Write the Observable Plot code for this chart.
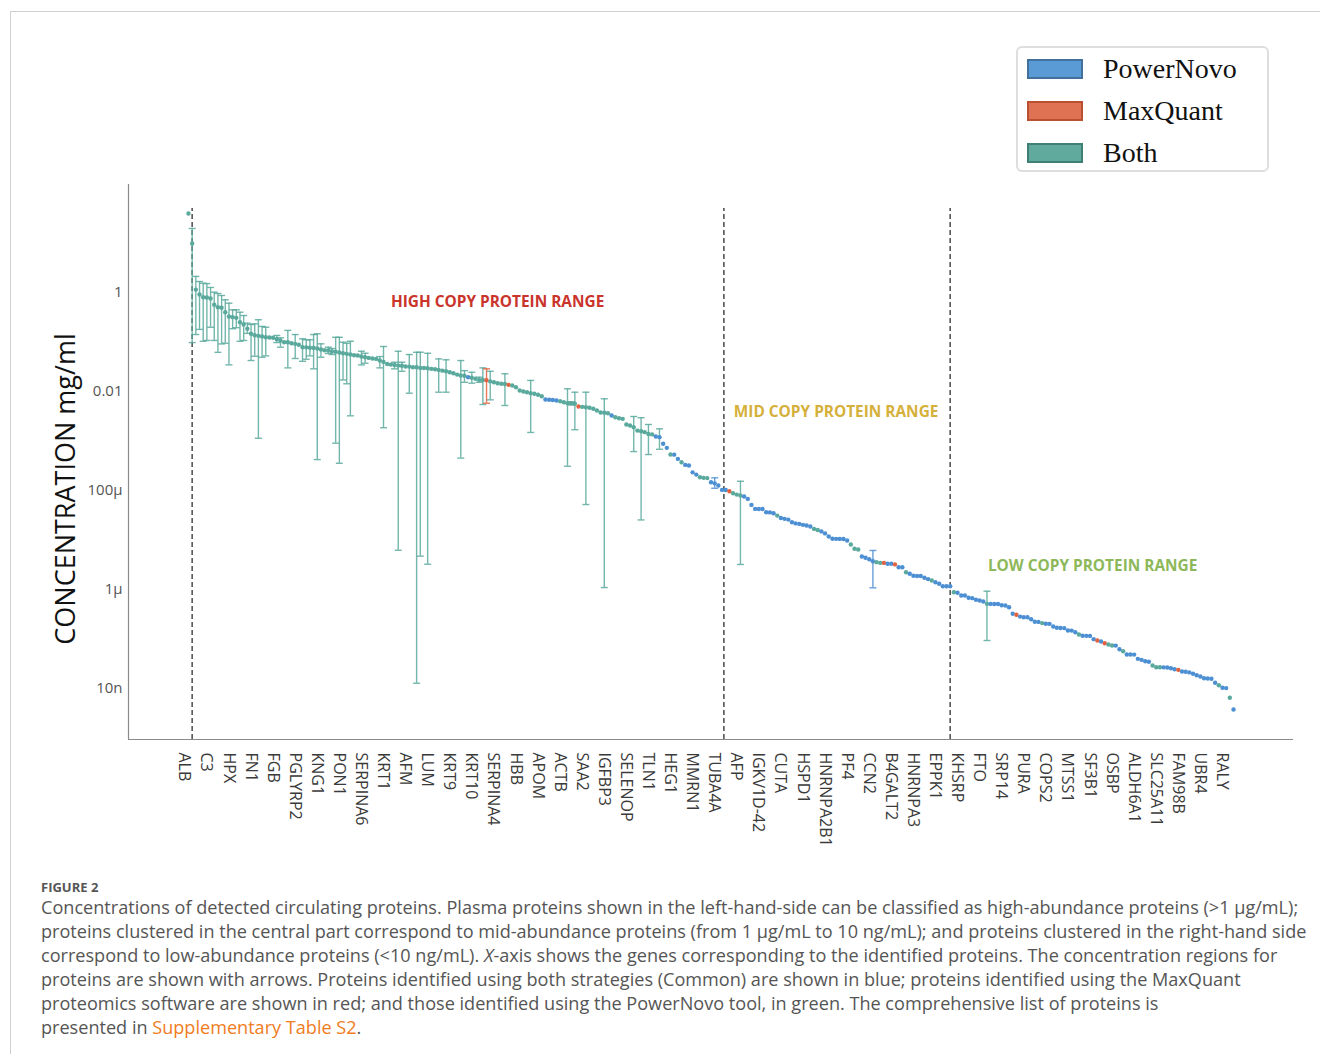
<!DOCTYPE html>
<html><head><meta charset="utf-8">
<script src="https://cdn.jsdelivr.net/npm/d3@7"></script>
<script src="https://cdn.jsdelivr.net/npm/@observablehq/plot@0.6"></script>
<style>
html,body{margin:0;padding:0;background:#fff;}
body{width:1320px;height:1054px;position:relative;overflow:hidden;font-family:"Open Sans",sans-serif;}
#frame{position:absolute;left:10px;top:11px;width:1310px;height:1043px;border-top:1px solid #d0d0d0;border-left:1px solid #d0d0d0;}
#chart{position:absolute;left:0;top:0;}
#ytitle{position:absolute;left:64px;top:489px;transform:translate(-50%,-50%) rotate(-90deg);font-size:27px;color:#111;white-space:nowrap;}
#legend{position:absolute;left:1016px;top:46px;width:253px;height:126px;border:2px solid #dedede;border-radius:6px;box-sizing:border-box;background:#fff;}
.sw{position:absolute;left:9px;width:56px;height:20px;box-sizing:border-box;border:2px solid;}
.lt{position:absolute;left:85px;font-family:"Liberation Serif","Times New Roman",serif;font-size:28px;color:#111;line-height:30px;}
#caption{position:absolute;left:41px;top:879px;color:#555;}
.fig{font-size:13px;font-weight:700;height:16px;line-height:16px;color:#555;}
.cl{font-size:18.1px;line-height:24px;white-space:nowrap;}
.lnk{color:#f07c22;}
</style></head>
<body>
<div id="frame"></div>
<div id="chart"></div>
<div id="ytitle">CONCENTRATION mg/ml</div>
<div id="legend"></div>
<div id="caption"></div>
<script>
// ---- data ----
const labels = ["ALB","C3","HPX","FN1","FGB","PGLYRP2","KNG1","PON1","SERPINA6","KRT1",
"AFM","LUM","KRT9","KRT10","SERPINA4","HBB","APOM","ACTB","SAA2","IGFBP3",
"SELENOP","TLN1","HEG1","MMRN1","TUBA4A","AFP","IGKV1D-42","CUTA","HSPD1","HNRNPA2B1",
"PF4","CCN2","B4GALT2","HNRNPA3","EPPK1","KHSRP","FTO","SRP14","PURA","COPS2",
"MTSS1","SF3B1","OSBP","ALDH6A1","SLC25A11","FAM98B","UBR4","RALY"];
const labelEvery = 6; // every 6th protein is labelled on the axis

// concentrations (mg/ml), proteins sorted by abundance
const values = [
39.8, 9.84, 1.145, 0.912, 0.803, 0.792, 0.756, 0.564, 0.503, 0.49,
0.399, 0.326, 0.317, 0.307, 0.25, 0.225, 0.185, 0.146, 0.136, 0.1325,
0.129, 0.124, 0.1228, 0.1216, 0.1134, 0.1068, 0.0986, 0.0984, 0.0941, 0.0914,
0.0874, 0.0781, 0.0776, 0.0759, 0.0756, 0.0735, 0.0701, 0.0678, 0.0669, 0.0638,
0.063, 0.0609, 0.0589, 0.0573, 0.0555, 0.0537, 0.0529, 0.0505, 0.0489, 0.0475,
0.0461, 0.0453, 0.042, 0.0394, 0.0358, 0.0347, 0.0342, 0.0331, 0.0329, 0.0317,
0.0316, 0.0307, 0.0306, 0.0298, 0.0297, 0.0292, 0.0285, 0.0279, 0.0271, 0.0262,
0.0254, 0.0243, 0.0232, 0.0218, 0.0209, 0.0207, 0.0193, 0.0188, 0.0179, 0.017,
0.0169, 0.0168, 0.0159, 0.0152, 0.0146, 0.0142, 0.0141, 0.0135, 0.0131, 0.0121,
0.01037, 0.0099, 0.00959, 0.00915, 0.0089, 0.0085, 0.00795, 0.00682, 0.00676, 0.00666,
0.00651, 0.0063, 0.00601, 0.00574, 0.00573, 0.00558, 0.00493, 0.00485, 0.00477, 0.00463,
0.00443, 0.00409, 0.00373, 0.00367, 0.0036, 0.00324, 0.00299, 0.00285, 0.00277, 0.00213,
0.00203, 0.00188, 0.0016, 0.00155, 0.00149, 0.00137, 0.00134, 0.00122, 0.00118, 0.000865,
0.000717, 0.000525, 0.000522, 0.000428, 0.000366, 0.000324, 0.000314, 0.000229, 0.000206, 0.000182,
0.000177, 0.000175, 0.000144, 0.000137, 1.24e-4, 1.01e-4, 1.005e-4, 9.47e-5, 8.62e-5, 8.11e-5,
7.76e-5, 7.4e-5, 6.63e-5, 5.02e-5, 4.16e-5, 4.15e-5, 4.14e-5, 3.55e-5, 3.54e-5, 3.4e-5,
3.05e-5, 2.73e-5, 2.62e-5, 2.53e-5, 2.23e-5, 2.12e-5, 2.07e-5, 1.98e-5, 1.92e-5, 1.83e-5,
1.64e-5, 1.56e-5, 1.46e-5, 1.33e-5, 1.15e-5, 1.033e-5, 1.03e-5, 1.028e-5, 1.025e-5, 9.55e-6,
7.94e-6, 6.5e-6, 6.28e-6, 4.54e-6, 4.26e-6, 3.99e-6, 3.64e-6, 3.48e-6, 3.37e-6, 3.36e-6,
3.23e-6, 3.22e-6, 3.13e-6, 2.75e-6, 2.74e-6, 2.18e-6, 2.03e-6, 1.84e-6, 1.83e-6, 1.82e-6,
1.68e-6, 1.58e-6, 1.48e-6, 1.36e-6, 1.268e-6, 1.134e-6, 1.131e-6, 1.128e-6, 8.57e-7, 8.35e-7,
7.35e-7, 7.34e-7, 6.61e-7, 6.49e-7, 6.02e-7, 5.82e-7, 5.55e-7, 4.98e-7, 4.97e-7, 4.96e-7,
4.94e-7, 4.67e-7, 4.62e-7, 4.25e-7, 3.13e-7, 2.99e-7, 2.75e-7, 2.67e-7, 2.66e-7, 2.43e-7,
2.16e-7, 2.15e-7, 2.03e-7, 1.97e-7, 1.96e-7, 1.73e-7, 1.63e-7, 1.62e-7, 1.61e-7, 1.44e-7,
1.43e-7, 1.33e-7, 1.194e-7, 1.123e-7, 1.12e-7, 1.117e-7, 9.6e-8, 9.02e-8, 8.61e-8, 7.95e-8,
7.49e-8, 7.15e-8, 7.12e-8, 6.02e-8, 5.47e-8, 4.71e-8, 4.7e-8, 4.68e-8, 3.84e-8, 3.66e-8,
3.44e-8, 3.35e-8, 2.81e-8, 2.6e-8, 2.59e-8, 2.58e-8, 2.56e-8, 2.48e-8, 2.37e-8, 2.3e-8,
2.13e-8, 2.11e-8, 2.04e-8, 1.91e-8, 1.79e-8, 1.69e-8, 1.55e-8, 1.54e-8, 1.52e-8, 1.256e-8,
1.124e-8, 9.95e-9, 9.81e-9, 6.24e-9, 3.62e-9
];

// proteins found only by PowerNovo / only by MaxQuant (all others: Both)
const powerNovoIdx = [76,97,98,99,100,115,127,128,129,130,132,133,135,136,137,138,142,143,144,145,146,
151,152,153,154,155,156,157,158,159,161,162,163,164,165,166,167,168,169,172,173,174,175,176,177,178,179,
183,184,185,186,190,191,193,194,196,197,198,199,200,201,203,204,205,206,207,209,210,211,212,213,214,215,216,
218,219,220,221,222,223,224,226,227,228,229,230,231,233,234,235,236,237,238,239,240,241,243,244,245,246,248,
252,253,255,256,257,258,259,260,261,265,266,267,268,270,271,272,273,274,275,276,277,278,279,281,282,284];
const maxQuantIdx = [81,87,106,147,189,192,225,247,249,269];

// error bars: [protein index, low, high]
const errorBars = [
[1,0.097,19.8],[2,0.141,2.12],[3,0.179,1.67],[4,0.103,1.54],[5,0.107,1.515],[6,0.198,1.265],
[7,0.107,1.015],[8,0.0615,0.955],[9,0.091,0.871],[10,0.094,0.712],[11,0.0343,0.608],[12,0.185,0.446],
[13,0.194,0.446],[14,0.103,0.399],[15,0.107,0.342],[16,0.149,0.239],[17,0.042,0.225],[18,0.0512,0.232],
[19,1.12e-3,0.281],[20,0.0489,0.206],[21,0.0522,0.198],[24,0.097,0.135],[25,0.0781,0.121],[27,0.0298,0.171],
[29,0.0461,0.141],[31,0.0405,0.1155],[32,0.0446,0.1104],[33,0.0522,0.1104],[34,0.0285,0.141],[35,4.15e-4,0.146],
[36,0.0489,0.0914],[38,0.0582,0.0781],[39,0.0555,0.0735],[40,8.92e-4,0.124],[41,3.49e-4,0.124],[42,0.017,0.0986],
[43,0.0142,0.0941],[44,3.19e-3,0.103],[47,0.0342,0.0647],[48,0.037,0.0589],[52,0.0298,0.0505],[53,1.83e-3,0.0807],
[56,0.0285,0.0387],[57,6.06e-6,0.0647],[58,0.0254,0.0387],[60,9.15e-3,0.0555],[62,1.232e-8,0.0617],[63,4.6e-6,0.0617],
[65,3.16e-6,0.0589],[68,9.59e-3,0.0453],[70,9.59e-3,0.0434],[74,4.44e-4,0.042],[75,0.0152,0.0262],[77,0.0146,0.0243],
[79,0.0152,0.0193],[80,5.4e-3,0.0298],[81,5.74e-3,0.0285],[82,6.72e-3,0.0254],[86,5.16e-3,0.0226],[93,1.47e-3,0.0166],
[103,3.04e-4,0.01124],[104,5.29e-3,6.16e-3],[105,1.67e-3,9.59e-3],[108,5.1e-5,9.59e-3],[113,1.065e-6,7.05e-3],
[121,6.02e-4,3.09e-3],[123,2.49e-5,2.92e-3],[125,5.25e-4,2.13e-3],[128,6.71e-4,1.74e-3],[143,1.09e-4,1.77e-4],
[150,3.12e-6,1.51e-4],[186,1.052e-6,6.0e-6],[217,9.02e-8,8.98e-7]
];
const barSource = {81:"MaxQuant",143:"PowerNovo",186:"PowerNovo"};

// range boundaries (protein index) and range annotations
const rangeBoundaries = [1, 145.5, 207];
const boundaryTop = 50;
const rangeNames = ["HIGH COPY PROTEIN RANGE","MID COPY PROTEIN RANGE","LOW COPY PROTEIN RANGE"];
const rangeAnchorIdx = [84, 176, 245.7];
const rangeAnchorVal = [0.627, 3.72e-3, 2.84e-6];
const rangeColors = ["#c9342b","#d5b03a","#8db85a"];

const yTicks = [1, 0.01, 1e-4, 1e-6, 1e-8];
const yTickLabels = ["1","0.01","100µ","1µ","10n"];

const sources = ["PowerNovo","MaxQuant","Both"];
const dotColors = ["#4d8fd3","#e3623f","#5aa99d"];
const swatchFill = ["#5b9bd5","#e07254","#5fa99d"];
const swatchStroke = ["#41719c","#b9502f","#3f7f74"];

// ---- build tables ----
const pnSet = new Set(powerNovoIdx), mqSet = new Set(maxQuantIdx);
const proteins = values.map((v,i)=>({i, v, src: pnSet.has(i) ? "PowerNovo" : mqSet.has(i) ? "MaxQuant" : "Both"}));
const bars = errorBars.map(([i,lo,hi])=>({i, lo, hi, src: barSource[i] || "Both"}));
const labelIdx = labels.map((_,k)=>k*labelEvery);
const ranges = rangeNames.map((t,k)=>({text:t, x:rangeAnchorIdx[k], y:rangeAnchorVal[k], color:rangeColors[k]}));

const xDomain = [-16.3, 300.3];
const yDomain = [8.94e-10, 153.6];
const capHalf = 0.95;

const chart = Plot.plot({
  width: 1320, height: 870,
  marginTop: 184, marginBottom: 131, marginLeft: 128, marginRight: 27,
  style: {fontFamily: '"Open Sans", sans-serif', background: "transparent", overflow: "visible"},
  x: {type: "linear", domain: xDomain},
  y: {type: "log", domain: yDomain},
  color: {domain: sources, range: dotColors},
  marks: [
    Plot.ruleX([xDomain[0]], {stroke: "#8a8a8a", strokeWidth: 1.2}),
    Plot.ruleY([yDomain[0]], {stroke: "#8a8a8a", strokeWidth: 1.2}),
    Plot.ruleX(rangeBoundaries, {y1: yDomain[0], y2: boundaryTop, stroke: "#555", strokeWidth: 1.6, strokeDasharray: "5,3"}),
    Plot.ruleX(bars, {x: "i", y1: "lo", y2: "hi", stroke: "src", strokeWidth: 1.4, strokeOpacity: 0.85}),
    Plot.link(bars, {x1: d=>d.i-capHalf, x2: d=>d.i+capHalf, y1: "lo", y2: "lo", stroke: "src", strokeWidth: 1.4, strokeOpacity: 0.85}),
    Plot.link(bars, {x1: d=>d.i-capHalf, x2: d=>d.i+capHalf, y1: "hi", y2: "hi", stroke: "src", strokeWidth: 1.4, strokeOpacity: 0.85}),
    Plot.dot(proteins, {x: "i", y: "v", fill: "src", r: 2.2}),
    ...ranges.map(r => Plot.text([r], {x: "x", y: "y", text: "text", fill: r.color, fontSize: 15.4, fontWeight: 700})),
    Plot.axisY({ticks: yTicks, tickFormat: d => yTickLabels[yTicks.indexOf(d)], tickSize: 0, tickPadding: 6, fontSize: 15, color: "#555", label: null}),
    Plot.axisX({ticks: labelIdx, tickFormat: d => labels[labelIdx.indexOf(d)], tickRotate: 90, tickSize: 0, tickPadding: 13, fontSize: 16, color: "#3a3a3a", label: null, dx: -4})
  ]
});
document.getElementById("chart").appendChild(chart);

// legend
const lg = document.getElementById("legend");
const rowTops = [11, 53, 95];
sources.forEach((s,k)=>{
  const sw = document.createElement("div");
  sw.className = "sw"; sw.style.top = rowTops[k] + "px";
  sw.style.background = swatchFill[k]; sw.style.borderColor = swatchStroke[k];
  lg.appendChild(sw);
  const t = document.createElement("div");
  t.className = "lt"; t.style.top = (rowTops[k] - 5) + "px"; t.textContent = s;
  lg.appendChild(t);
});

// caption
document.getElementById("caption").innerHTML =
 '<div class="fig">FIGURE 2</div>' +
 '<div class="cl">Concentrations of detected circulating proteins. Plasma proteins shown in the left-hand-side can be classified as high-abundance proteins (&gt;1 µg/mL);</div>' +
 '<div class="cl">proteins clustered in the central part correspond to mid-abundance proteins (from 1 µg/mL to 10 ng/mL); and proteins clustered in the right-hand side</div>' +
 '<div class="cl">correspond to low-abundance proteins (&lt;10 ng/mL). <i>X</i>-axis shows the genes corresponding to the identified proteins. The concentration regions for</div>' +
 '<div class="cl">proteins are shown with arrows. Proteins identified using both strategies (Common) are shown in blue; proteins identified using the MaxQuant</div>' +
 '<div class="cl">proteomics software are shown in red; and those identified using the PowerNovo tool, in green. The comprehensive list of proteins is</div>' +
 '<div class="cl">presented in <span class="lnk">Supplementary Table S2</span>.</div>';
</script>
</body></html>
